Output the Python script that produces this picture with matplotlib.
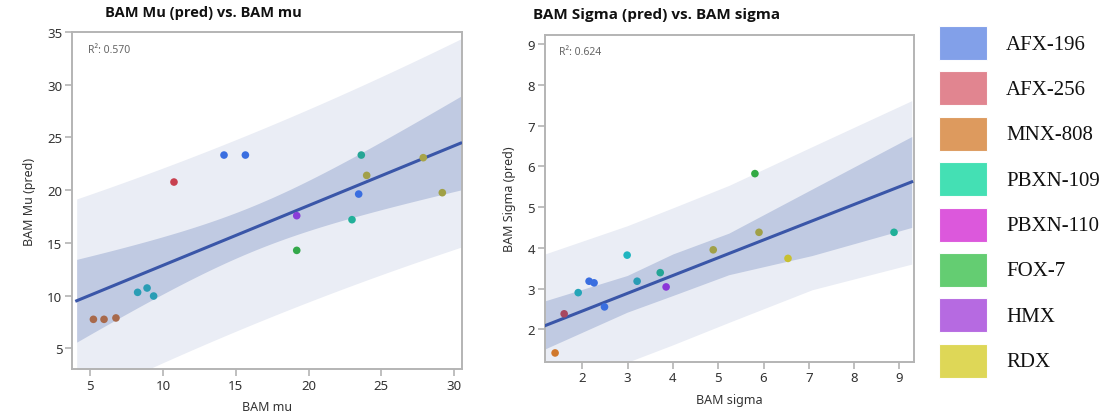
import numpy as np
import matplotlib
matplotlib.use("Agg")
import matplotlib.pyplot as plt
from matplotlib.patches import Rectangle

# ---------------- data ----------------
mu_x = [5.21, 5.94, 6.76, 8.25, 8.90, 9.35, 10.75, 14.19, 15.66, 19.19, 19.19,
        22.99, 23.45, 23.63, 24.00, 27.89, 29.20]
mu_y = [7.75, 7.75, 7.88, 10.31, 10.72, 9.96, 20.77, 23.33, 23.33, 17.58, 14.29,
        17.20, 19.63, 23.33, 21.40, 23.08, 19.76]
mu_colors = ["#a8694b", "#a8694b", "#a8694b", "#2a9db5", "#2a9db5", "#2a9db5",
             "#c8404f", "#3a6ee0", "#3a6ee0", "#8a3dd8", "#33a84a",
             "#22b09a", "#3a6ee0", "#25a595", "#a2a048", "#a8a448", "#a0a045"]
mu_fit_range = [4.06, 30.46]
mu_r2_label = "R\u00b2: 0.570"

sig_x = [1.40, 1.60, 1.91, 2.15, 2.26, 2.49, 2.99, 3.21, 3.72, 3.85, 4.89,
         5.81, 5.90, 6.54, 8.88]
sig_y = [1.42, 2.38, 2.90, 3.18, 3.14, 2.55, 3.82, 3.18, 3.39, 3.04, 3.95,
         5.82, 4.38, 3.74, 4.38]
sig_colors = ["#d0782c", "#a84860", "#25a5b8", "#3a6ee0", "#3a6ee0", "#3a6ee0",
              "#20b5c0", "#2a9db5", "#25a595", "#8a35d8", "#a0a048",
              "#33aa44", "#a0a048", "#c8c030", "#20b098"]
sig_r2_label = "R\u00b2: 0.624"
# fitted line and bands as shown in the picture
sig_fit_range = [1.18, 9.27]
sig_fit_intercept = 1.576
sig_fit_slope = 0.436
sig_band_x = [1.18, 2.99, 4.0, 5.235, 7.07, 9.27]
sig_ci_lo = [1.52, 2.42, 2.83, 3.34, 3.81, 4.50]
sig_ci_hi = [2.70, 3.32, 3.85, 4.36, 5.44, 6.73]
sig_pi_lo = [0.31, 1.19, 1.62, 2.17, 2.97, 3.60]
sig_pi_hi = [3.85, 4.54, 4.98, 5.53, 6.48, 7.61]

legend_labels = ["AFX-196", "AFX-256", "MNX-808", "PBXN-109", "PBXN-110",
                 "FOX-7", "HMX", "RDX"]
legend_colors = ["#7b9be8", "#e07f8a", "#dc9555", "#3adfb0", "#db4fdb",
                 "#5ccb6a", "#b262e0", "#ddd54e"]

t95 = 2.131  # Student t, 0.975 quantile, df = 15

# ---------------- style ----------------
LIGHT = "#eaedf5"
DARK = "#c0cae2"
LINE = "#3a56a8"
SPINE = "#b4b4b4"
TEXT = "#333333"
plt.rcParams["font.family"] = ["Noto Sans", "DejaVu Sans"]

fig = plt.figure(figsize=(11.15, 4.14), dpi=100)


def style_axes(ax, xlabel, ylabel, r2):
    for s in ax.spines.values():
        s.set_color(SPINE)
        s.set_linewidth(1.4)
    ax.tick_params(axis="both", colors=SPINE, labelcolor=TEXT, labelsize=9.5,
                   length=5, width=1.2, pad=2)
    ax.set_xlabel(xlabel, fontsize=9, color=TEXT, labelpad=6)
    ax.set_ylabel(ylabel, fontsize=9, color=TEXT, labelpad=8)
    ax.text(0.04, 0.965, r2, transform=ax.transAxes, fontsize=7.5,
            color="#666666", va="top", ha="left")


# ---------------- left panel ----------------
ax1 = fig.add_axes([0.0646, 0.1063, 0.3497, 0.814])
x = np.array(mu_x)
y = np.array(mu_y)
n = len(x)
b1, b0 = np.polyfit(x, y, 1)
resid = y - (b0 + b1 * x)
s = np.sqrt(np.sum(resid ** 2) / (n - 2))
sxx = np.sum((x - x.mean()) ** 2)
xg = np.linspace(mu_fit_range[0], mu_fit_range[1], 200)
yg = b0 + b1 * xg
ci = t95 * s * np.sqrt(1 / n + (xg - x.mean()) ** 2 / sxx)
pi = t95 * s * np.sqrt(1 + 1 / n + (xg - x.mean()) ** 2 / sxx)
ax1.fill_between(xg, yg - pi, yg + pi, color=LIGHT, lw=0, zorder=1)
ax1.fill_between(xg, yg - ci, yg + ci, color=DARK, lw=0, zorder=2)
ax1.plot(xg, yg, color=LINE, lw=2.2, zorder=3)
ax1.scatter(mu_x, mu_y, c=mu_colors, s=30, lw=0, zorder=4)
ax1.set_xlim(3.74, 30.55)
ax1.set_ylim(3.04, 35)
ax1.set_xticks([5, 10, 15, 20, 25, 30])
ax1.set_yticks([5, 10, 15, 20, 25, 30, 35])
style_axes(ax1, "BAM mu", "BAM Mu (pred)", mu_r2_label)
fig.text(105 / 1115, 1 - 13 / 414, "BAM Mu (pred) vs. BAM mu", fontsize=10.5,
         family=["Open Sans", "DejaVu Sans"], fontweight="bold",
         ha="left", va="center", color="#111111")

# ---------------- right panel ----------------
ax2 = fig.add_axes([0.4885, 0.1239, 0.3312, 0.789])
xs = np.linspace(sig_fit_range[0], sig_fit_range[1], 200)
ys = sig_fit_intercept + sig_fit_slope * xs
ax2.fill_between(sig_band_x, sig_pi_lo, sig_pi_hi, color=LIGHT, lw=0, zorder=1)
ax2.fill_between(sig_band_x, sig_ci_lo, sig_ci_hi, color=DARK, lw=0, zorder=2)
ax2.plot(xs, ys, color=LINE, lw=2.2, zorder=3)
ax2.scatter(sig_x, sig_y, c=sig_colors, s=30, lw=0, zorder=4)
ax2.set_xlim(1.17, 9.32)
ax2.set_ylim(1.205, 9.22)
ax2.set_xticks([2, 3, 4, 5, 6, 7, 8, 9])
ax2.set_yticks([2, 3, 4, 5, 6, 7, 8, 9])
style_axes(ax2, "BAM sigma", "BAM Sigma (pred)", sig_r2_label)
fig.text(533 / 1115, 1 - 15 / 414, "BAM Sigma (pred) vs. BAM sigma", fontsize=11,
         family=["Open Sans", "DejaVu Sans"], fontweight="bold",
         ha="left", va="center", color="#111111")

# ---------------- legend ----------------
lax = fig.add_axes([0, 0, 1, 1], zorder=-1)
lax.set_xlim(0, 1115)
lax.set_ylim(414, 0)
lax.axis("off")
for i, (lab, col) in enumerate(zip(legend_labels, legend_colors)):
    yc = 44 + i * 45.4
    lax.add_patch(Rectangle((938.5, yc - 17), 48, 34, facecolor=col,
                            edgecolor="white", lw=0.8, alpha=0.95))
    lax.text(1006, yc + 1, lab, fontsize=15, family="Liberation Serif",
             color="#111111", ha="left", va="center")

fig.savefig("out.png", dpi=100)
